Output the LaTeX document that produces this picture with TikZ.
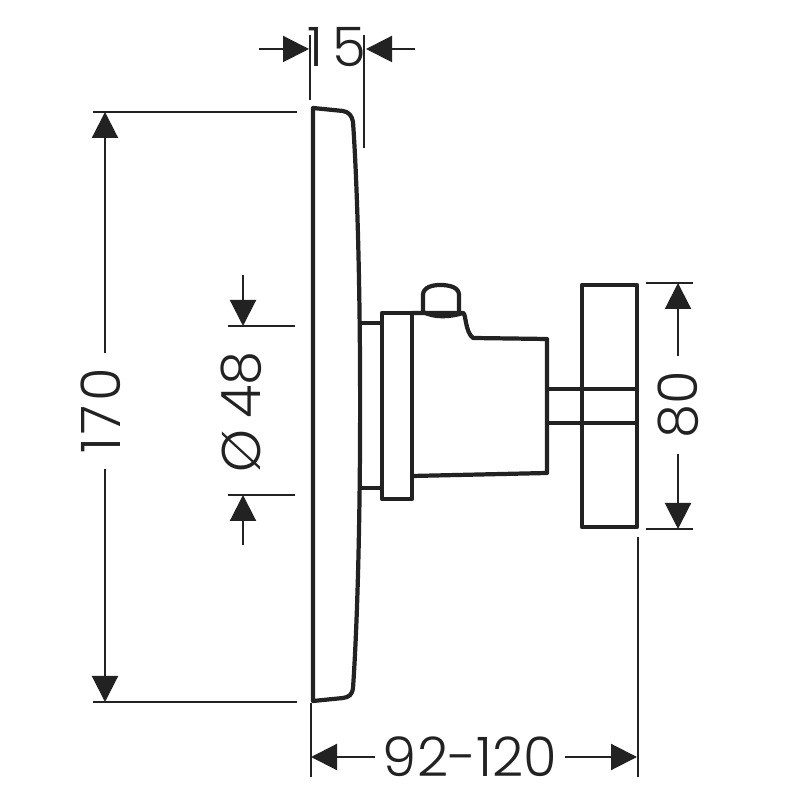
\documentclass[tikz,border=0pt]{standalone}
\usepackage{fontspec}
\setmainfont{Poppins}[UprightFont=* Light]
\usetikzlibrary{arrows.meta}
\definecolor{inkdark}{HTML}{222222}
\tikzset{
	outline/.style={draw=inkdark,line width=1.2pt,line join=round},
	extline/.style={draw=inkdark,line width=0.6pt},
	dimarrow/.style={draw=inkdark,line width=0.6pt,-{Triangle[length=2.6mm,width=2.6mm]}},
	dimlabel/.style={text=inkdark,font=\fontsize{15.5}{18}\selectfont,inner sep=4pt}
}
\begin{document}
\begin{tikzpicture}
	\useasboundingbox (0,0) rectangle (8,8);

	%Plate
	\draw[outline] (3.13,6.92) -- (3.43,6.89) .. controls (3.49,6.88) and (3.52,6.84) .. (3.53,6.78)
		.. controls (3.625,5.4) and (3.625,2.5) .. (3.53,1.12)
		.. controls (3.52,1.05) and (3.49,1.03) .. (3.43,1.02) -- (3.13,0.99) -- cycle;

	%Flange and stubs
	\draw[outline] (3.60,4.77) -- (3.82,4.77);
	\draw[outline] (3.60,3.12) -- (3.82,3.12);
	\draw[outline] (3.82,4.87) rectangle (4.12,3.01);

	%Body
	\draw[outline] (4.12,4.87) -- (4.63,4.87) .. controls (4.66,4.87) and (4.65,4.68) .. (4.73,4.62)
		-- (5.47,4.61) -- (5.47,3.27) -- (4.12,3.24);

	%Knob
	\draw[outline] (4.23,4.88) -- (4.23,5.05) .. controls (4.23,5.13) and (4.33,5.15) .. (4.40,5.15)
		.. controls (4.49,5.15) and (4.59,5.13) .. (4.59,5.05) -- (4.59,4.87);
	\draw[outline] (4.23,4.88) .. controls (4.35,4.82) and (4.50,4.83) .. (4.63,4.87);

	%Spindle
	\draw[outline] (5.47,4.11) -- (6.37,4.11);
	\draw[outline] (5.47,3.77) -- (6.37,3.77);

	%Handle
	\draw[outline] (5.82,5.15) rectangle (6.37,2.73);

	%15
	\node[dimlabel] (width15) at (3.37,7.53) {1\,5};
	\coordinate (tail15a) at (2.59,7.51);
	\coordinate (tip15a) at (3.09,7.51);
	\coordinate (tail15b) at (4.15,7.51);
	\coordinate (tip15b) at (3.66,7.51);
	\draw[extline] (3.10,7.65) -- (3.10,7.00);
	\draw[extline] (3.64,7.65) -- (3.64,6.52);
	\draw[dimarrow] (tail15a) -- (tip15a);
	\draw[dimarrow] (tail15b) -- (tip15b);

	%170
	\node[dimlabel,rotate=90] (height170) at (1.01,3.89) {1\kern1pt 7\kern1pt 0};
	\coordinate (tip170a) at (1.05,6.88);
	\coordinate (tip170b) at (1.05,0.98);
	\draw[extline] (0.93,6.88) -- (2.97,6.88);
	\draw[extline] (0.93,0.98) -- (2.97,0.98);
	\draw[dimarrow] (height170.east -| tip170a) -- (tip170a);
	\draw[dimarrow] (height170.west -| tip170b) -- (tip170b);

	%48
	\node[dimlabel,rotate=90] (dia48) at (2.41,3.88) {Ø\kern3pt 48};
	\coordinate (tip48a) at (2.43,4.74);
	\coordinate (tip48b) at (2.43,3.05);
	\coordinate (tail48a) at (2.43,5.25);
	\coordinate (tail48b) at (2.43,2.55);
	\draw[extline] (2.28,4.74) -- (2.95,4.74);
	\draw[extline] (2.28,3.05) -- (2.95,3.05);
	\draw[dimarrow] (tail48a) -- (tip48a);
	\draw[dimarrow] (tail48b) -- (tip48b);

	%80
	\node[dimlabel,rotate=90] (cross80) at (6.78,3.95) {80};
	\coordinate (tip80a) at (6.78,5.17);
	\coordinate (tip80b) at (6.78,2.71);
	\draw[extline] (6.46,5.17) -- (6.93,5.17);
	\draw[extline] (6.46,2.71) -- (6.93,2.71);
	\draw[dimarrow] (cross80) -- (tip80a);
	\draw[dimarrow] (cross80) -- (tip80b);

	%92-120
	\node[dimlabel,inner sep=2pt] (depth120) at (4.70,0.43) {92-120};
	\coordinate (tip92a) at (3.11,0.43);
	\coordinate (tip92b) at (6.37,0.43);
	\draw[extline] (3.11,0.97) -- (3.11,0.23);
	\draw[extline] (6.38,2.63) -- (6.38,0.23);
	\draw[dimarrow] (depth120) -- (tip92a);
	\draw[dimarrow] (depth120) -- (tip92b);
\end{tikzpicture}
\end{document}
